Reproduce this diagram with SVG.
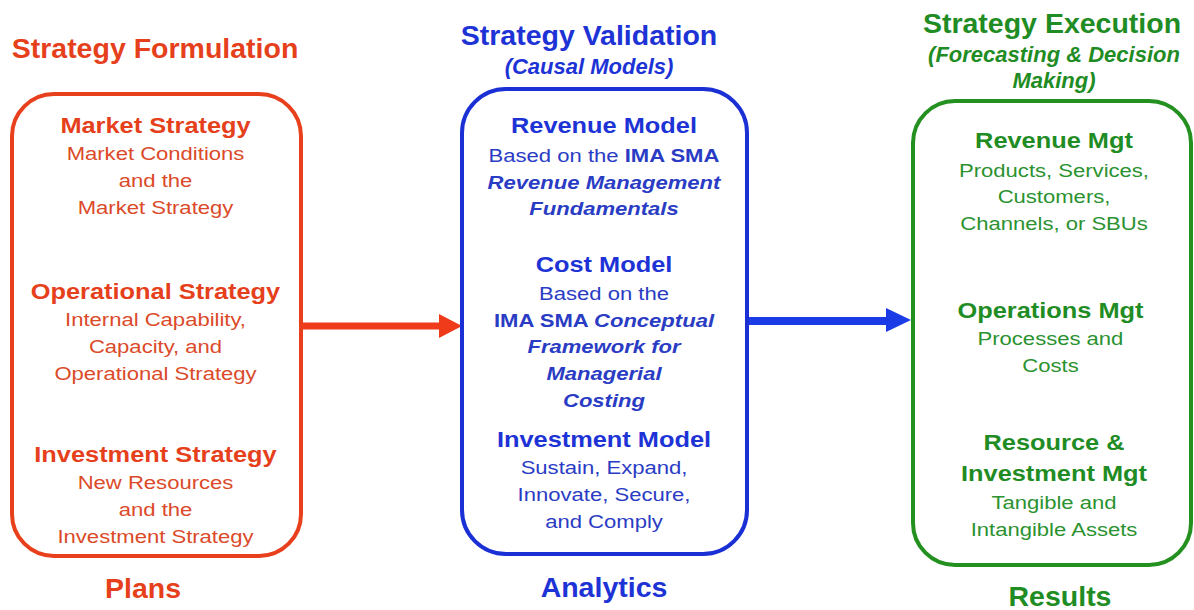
<svg xmlns="http://www.w3.org/2000/svg" width="1194" height="610" viewBox="0 0 1194 610">
<style>
text{font-family:"Liberation Sans",Arial,sans-serif;text-anchor:middle}
.t{font-size:28.5px;font-weight:bold}
.h{font-size:21.5px;font-weight:bold}
.b{font-size:18.7px}
.s{font-size:22px;font-weight:bold;font-style:italic}
.bi{font-weight:bold;font-style:italic}
.bo{font-weight:bold}
.red{fill:#e63f1c}
.redb{fill:#db4a29}
.blue{fill:#1d33d6}
.blueb{fill:#2a3cc4}
.green{fill:#1f8c24}
.greenb{fill:#2b9230}
.box{fill:none;stroke-width:4}
</style>
<rect width="1194" height="610" fill="#fff"/>
<g id="connectors">
<line x1="301" y1="326" x2="442" y2="326" stroke="#ef3b1a" stroke-width="7"/>
<polygon points="439,314 462,326 439,338" fill="#ef3b1a"/>
<line x1="747" y1="321" x2="888" y2="321" stroke="#1a3be6" stroke-width="8"/>
<polygon points="886,308 911,320 886,332" fill="#1a3be6"/>
</g>
<g id="formulation">
<text x="155" y="58" class="t red">Strategy Formulation</text>
<rect x="12" y="94" width="289" height="462" rx="42" class="box" stroke="#e8401c"/>
<g transform="translate(155.5,0) scale(1.18,1)">
<text x="0" y="133" class="h red">Market Strategy</text>
<text x="0" y="160" class="b redb">Market Conditions</text>
<text x="0" y="187" class="b redb">and the</text>
<text x="0" y="214" class="b redb">Market Strategy</text>
<text x="0" y="299" class="h red">Operational Strategy</text>
<text x="0" y="326" class="b redb">Internal Capability,</text>
<text x="0" y="353" class="b redb">Capacity, and</text>
<text x="0" y="380" class="b redb">Operational Strategy</text>
<text x="0" y="462" class="h red">Investment Strategy</text>
<text x="0" y="489" class="b redb">New Resources</text>
<text x="0" y="516" class="b redb">and the</text>
<text x="0" y="543" class="b redb">Investment Strategy</text>
</g>
<text x="143" y="598" class="t red">Plans</text>
</g>
<g id="validation">
<text x="589" y="45" class="t blue">Strategy Validation</text>
<text x="589" y="74" class="s blue">(Causal Models)</text>
<rect x="462" y="89" width="285" height="465" rx="44" class="box" stroke="#1a30d4"/>
<g transform="translate(604,0) scale(1.18,1)">
<text x="0" y="133" class="h blue">Revenue Model</text>
<text x="0" y="162" class="b blueb">Based on the <tspan class="bo">IMA SMA</tspan></text>
<text x="0" y="189" class="b blueb bi">Revenue Management</text>
<text x="0" y="215" class="b blueb bi">Fundamentals</text>
<text x="0" y="272" class="h blue">Cost Model</text>
<text x="0" y="300" class="b blueb">Based on the</text>
<text x="0" y="327" class="b blueb bo">IMA SMA <tspan font-style="italic">Conceptual</tspan></text>
<text x="0" y="353" class="b blueb bi">Framework for</text>
<text x="0" y="380" class="b blueb bi">Managerial</text>
<text x="0" y="407" class="b blueb bi">Costing</text>
<text x="0" y="447" class="h blue">Investment Model</text>
<text x="0" y="474" class="b blueb">Sustain, Expand,</text>
<text x="0" y="501" class="b blueb">Innovate, Secure,</text>
<text x="0" y="528" class="b blueb">and Comply</text>
</g>
<text x="604" y="597" class="t blue">Analytics</text>
</g>
<g id="execution">
<text x="1052" y="33" class="t green">Strategy Execution</text>
<text x="1054" y="62" class="s green">(Forecasting &amp; Decision</text>
<text x="1054" y="88" class="s green">Making)</text>
<rect x="913" y="101" width="278" height="464" rx="42" class="box" stroke="#23901f"/>
<g transform="translate(1054,0) scale(1.18,1)">
<text x="0" y="148" class="h green">Revenue Mgt</text>
<text x="0" y="177" class="b greenb">Products, Services,</text>
<text x="0" y="203" class="b greenb">Customers,</text>
<text x="0" y="230" class="b greenb">Channels, or SBUs</text>
<text x="-3" y="318" class="h green">Operations Mgt</text>
<text x="-3" y="345" class="b greenb">Processes and</text>
<text x="-3" y="372" class="b greenb">Costs</text>
<text x="0" y="450" class="h green">Resource &amp;</text>
<text x="0" y="481" class="h green">Investment Mgt</text>
<text x="0" y="509" class="b greenb">Tangible and</text>
<text x="0" y="536" class="b greenb">Intangible Assets</text>
</g>
<text x="1060" y="606" class="t green">Results</text>
</g>
</svg>
